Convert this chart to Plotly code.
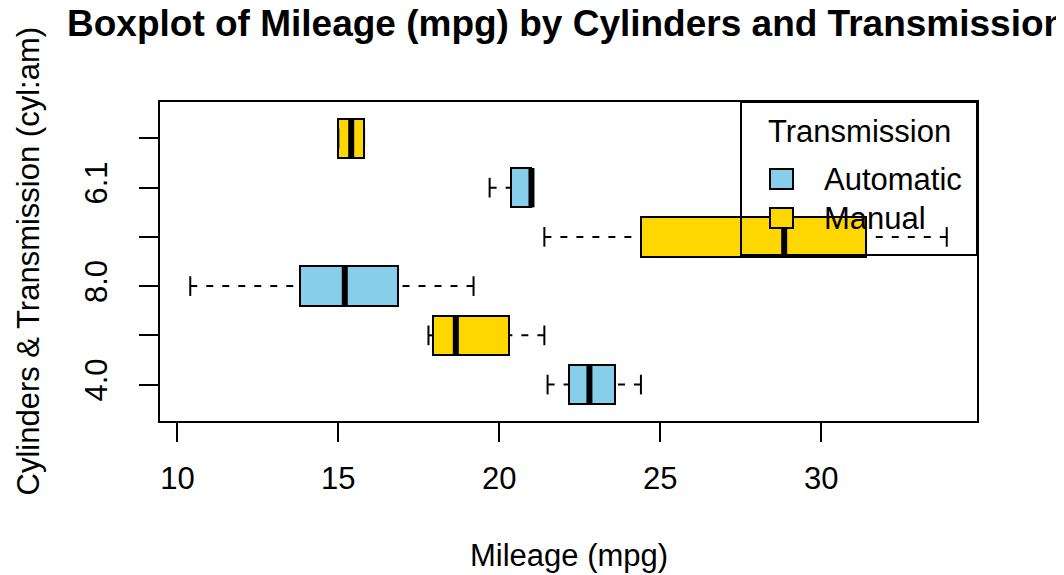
import plotly.graph_objects as go

# ---- data ----
groups = ["4.0", "6.0", "8.0", "4.1", "6.1", "8.1"]
lower_whisker = [21.5, 17.8, 10.4, 21.4, 19.7, 15.0]
lower_hinge = [22.15, 17.95, 13.8, 24.4, 20.35, 15.0]
medians = [22.8, 18.65, 15.2, 28.85, 21.0, 15.4]
upper_hinge = [23.6, 20.3, 16.85, 31.4, 21.0, 15.8]
upper_whisker = [24.4, 21.4, 19.2, 33.9, 21.0, 15.8]
y_tick_labels = ["4.0", "", "8.0", "", "6.1", ""]
x_ticks = [10, 15, 20, 25, 30]
legend_labels = ["Automatic", "Manual"]
fill_colors = ["#87CEEB", "#FFD700"]  # skyblue, gold (recycled)

FONT = "Liberation Sans, Arial, Helvetica, sans-serif"
OFF = 8  # page body margin offset
W, H = 1064 - OFF, 575 - OFF
ML, MT = 160 - OFF, 102 - OFF
MR = W - (977 - OFF)
MB = H - (421 - OFF)
PW, PH = W - ML - MR, H - MT - MB

def px_x(px):
    return (px - OFF - ML) / PW

def px_y(py):
    return (H - MB - (py - OFF)) / PH

pos = list(range(1, len(groups) + 1))
box_cols = [fill_colors[i % 2] for i in range(len(groups))]
half = 0.4
staple_half = 0.2

fig = go.Figure()

# boxes
fig.add_trace(go.Bar(
    orientation="h",
    y=pos,
    x=[u - l for u, l in zip(upper_hinge, lower_hinge)],
    base=lower_hinge,
    width=0.8,
    marker=dict(color=box_cols, line=dict(color="black", width=2)),
    showlegend=False, hoverinfo="skip",
))

# whiskers (dashed), drawn from whisker end toward hinge
for p, lw, lh, uh, uw in zip(pos, lower_whisker, lower_hinge, upper_hinge, upper_whisker):
    for a, b in ((lw, lh), (uw, uh)):
        if a != b:
            fig.add_trace(go.Scatter(
                x=[a, b], y=[p, p], mode="lines",
                line=dict(color="black", width=2, dash="7px,9px"),
                showlegend=False, hoverinfo="skip",
            ))

# staples
sx, sy = [], []
for p, lw, uw in zip(pos, lower_whisker, upper_whisker):
    for v in (lw, uw):
        sx += [v, v, None]
        sy += [p - staple_half, p + staple_half, None]
fig.add_trace(go.Scatter(x=sx, y=sy, mode="lines",
                         line=dict(color="black", width=2),
                         showlegend=False, hoverinfo="skip"))

# medians
mx, my = [], []
for p, m in zip(pos, medians):
    mx += [m, m, None]
    my += [p - half, p + half, None]
fig.add_trace(go.Scatter(x=mx, y=my, mode="lines",
                         line=dict(color="black", width=6),
                         showlegend=False, hoverinfo="skip"))

# ---- custom legend (R-style, transparent background) ----
shapes = [
    dict(type="rect", xref="paper", yref="paper",
         x0=px_x(741), x1=px_x(977), y0=px_y(255), y1=px_y(102),
         line=dict(color="black", width=2), fillcolor="rgba(0,0,0,0)", layer="above"),
]
leg_rows = [179, 218]
for lab, col, cy in zip(legend_labels, fill_colors, leg_rows):
    shapes.append(dict(type="rect", xref="paper", yref="paper",
                       x0=px_x(770), x1=px_x(793), y0=px_y(cy + 10), y1=px_y(cy - 10),
                       line=dict(color="black", width=2), fillcolor=col, layer="above"))

annotations = [
    dict(text="Transmission", xref="paper", yref="paper", x=px_x(859), y=px_y(131),
         xanchor="center", yanchor="middle", showarrow=False,
         font=dict(family=FONT, size=31, color="black")),
    dict(text="Mileage (mpg)", xref="paper", yref="paper", x=0.5, y=px_y(555),
         xanchor="center", yanchor="middle", showarrow=False,
         font=dict(family=FONT, size=31, color="black")),
    dict(text="Cylinders & Transmission (cyl:am)", xref="paper", yref="paper",
         x=px_x(28), y=0.5, textangle=-90, xanchor="center", yanchor="middle",
         showarrow=False, font=dict(family=FONT, size=31, color="black")),
]
for lab, cy in zip(legend_labels, leg_rows):
    annotations.append(dict(text=lab, xref="paper", yref="paper", x=px_x(822), y=px_y(cy),
                            xanchor="left", yanchor="middle", showarrow=False,
                            font=dict(family=FONT, size=31, color="black")))

fig.update_layout(
    width=W, height=H,
    margin=dict(l=ML, r=MR, t=MT, b=MB, pad=0),
    paper_bgcolor="white", plot_bgcolor="white",
    font=dict(family=FONT, size=31, color="black"),
    title=dict(text="<b>Boxplot of Mileage (mpg) by Cylinders and Transmission</b>",
               xref="container", yref="container", x=(67 - OFF) / W, xanchor="left",
               y=1 - (23 - OFF) / H, yanchor="middle",
               font=dict(family=FONT, size=37, color="black")),
    shapes=shapes, annotations=annotations,
    showlegend=False, bargap=0,
)
fig.update_xaxes(range=[9.46, 34.84], tickvals=x_ticks, ticktext=[str(v) for v in x_ticks],
                 ticks="outside", ticklen=19, tickwidth=2, tickcolor="black",
                 showline=True, linecolor="black", linewidth=2, mirror=True,
                 showgrid=False, zeroline=False, ticklabelstandoff=10,
                 tickfont=dict(family=FONT, size=31, color="black"))
fig.update_yaxes(range=[0.26, 6.74], tickvals=pos, ticktext=y_tick_labels,
                 tickangle=-90,
                 ticks="outside", ticklen=19, tickwidth=2, tickcolor="black",
                 showline=True, linecolor="black", linewidth=2, mirror=True,
                 showgrid=False, zeroline=False, ticklabelstandoff=20,
                 tickfont=dict(family=FONT, size=31, color="black"))

fig.write_html("out.html")
